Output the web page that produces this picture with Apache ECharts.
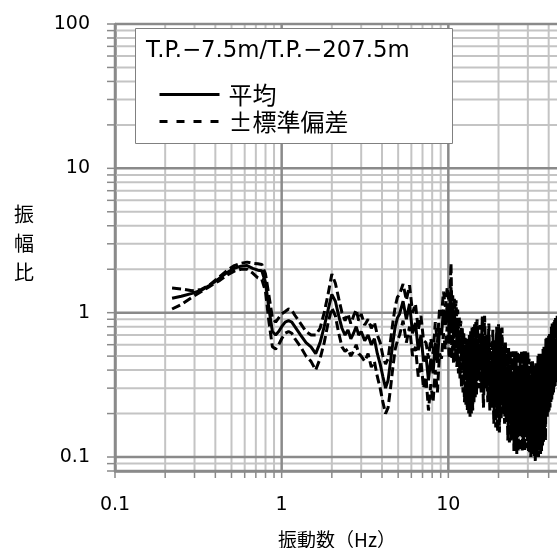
<!DOCTYPE html>
<html>
<head>
<meta charset="utf-8">
<script src="https://cdn.jsdelivr.net/npm/echarts@6/dist/echarts.min.js"></script>
<style>
  html, body { margin: 0; padding: 0; background: #fff; }
  #chart { width: 557px; height: 548px; }
</style>
</head>
<body>
<div id="chart"></div>
<script>
// Frequency (Hz) of each spectral point
const FREQ = [
  0.22, 0.25, 0.29, 0.33, 0.37, 0.42, 0.47, 0.52, 0.57, 0.62, 0.67, 0.72, 0.76, 0.80, 0.84, 0.88, 0.92, 0.96, 1.00,
  1.05, 1.10, 1.15, 1.20, 1.30, 1.40, 1.50, 1.60, 1.70, 1.80, 1.90, 2.00, 2.10, 2.20, 2.30, 2.40, 2.50, 2.60, 2.70, 2.80,
  2.90, 3.00, 3.15, 3.30, 3.45, 3.60, 3.75, 3.90, 4.05, 4.20, 4.35, 4.50, 4.65, 4.80, 4.95,
  5.10, 5.35, 5.60, 5.85, 6.10, 6.35, 6.60, 6.85, 7.10, 7.35, 7.60, 7.85, 8.10, 8.35, 8.60, 8.85, 9.10, 9.35, 9.60, 9.85,
  10, 10.125, 10.25, 10.375, 10.5, 10.625, 10.75, 10.875,
  11, 11.125, 11.25, 11.375, 11.5, 11.625, 11.75, 11.875,
  12, 12.125, 12.25, 12.375, 12.5, 12.625, 12.75, 12.875,
  13, 13.125, 13.25, 13.375, 13.5, 13.625, 13.75, 13.875,
  14, 14.125, 14.25, 14.375, 14.5, 14.625, 14.75, 14.875,
  15, 15.25, 15.5, 15.75, 16, 16.25, 16.5, 16.75, 17, 17.25, 17.5, 17.75, 18, 18.25, 18.5, 18.75, 19, 19.25, 19.5, 19.75,
  20, 20.25, 20.5, 20.75, 21, 21.25, 21.5, 21.75, 22, 22.25, 22.5, 22.75, 23, 23.25, 23.5, 23.75, 24, 24.25, 24.5, 24.75,
  25, 25.25, 25.5, 25.75, 26, 26.25, 26.5, 26.75, 27, 27.25, 27.5, 27.75, 28, 28.25, 28.5, 28.75, 29, 29.25, 29.5, 29.75,
  30, 30.25, 30.5, 30.75, 31, 31.25, 31.5, 31.75, 32, 32.25, 32.5, 32.75, 33, 33.25, 33.5, 33.75, 34, 34.25, 34.5, 34.75,
  35, 35.25, 35.5, 35.75, 36, 36.25, 36.5, 36.75, 37, 37.25, 37.5, 37.75, 38, 38.25, 38.5, 38.75, 39, 39.25, 39.5, 39.75,
  40, 40.25, 40.5, 40.75, 41, 41.25, 41.5, 41.75, 42, 42.25, 42.5, 42.75, 43, 43.25, 43.5, 43.75, 44, 44.25, 44.5, 44.75,
  45, 45.25, 45.5, 45.75
];

// Mean spectral ratio
const MEAN = [
  1.26, 1.30, 1.36, 1.43, 1.55, 1.72, 1.90, 2.03, 2.10, 2.12, 2.03, 1.97, 1.95, 1.62, 1.05, 0.74, 0.70, 0.74, 0.80,
  0.86, 0.88, 0.86, 0.80, 0.70, 0.62, 0.58, 0.52, 0.62, 0.80, 1.05, 1.34, 1.20, 0.95, 0.78, 0.70, 0.76, 0.66, 0.72, 0.80,
  0.70, 0.74, 0.64, 0.70, 0.60, 0.66, 0.52, 0.44, 0.36, 0.30, 0.34, 0.46, 0.62, 0.80, 0.92,
  0.98, 1.20, 0.90, 1.15, 0.72, 0.85, 0.55, 0.70, 0.46, 0.50, 0.34, 0.48, 0.38, 0.62, 0.45, 0.78, 0.70, 1.05, 0.82, 1.15,
  0.95, 0.70, 1.10, 1.50, 0.72, 1.00, 0.66, 0.98,
  0.70, 0.92, 0.62, 0.80, 0.56, 0.72, 0.52, 0.66,
  0.46, 0.60, 0.42, 0.56, 0.36, 0.50, 0.34, 0.46,
  0.32, 0.48, 0.30, 0.52, 0.28, 0.54, 0.30, 0.56,
  0.32, 0.58, 0.36, 0.60, 0.38, 0.62, 0.40, 0.64,
  0.62, 0.36, 0.58, 0.40, 0.66, 0.34, 0.68, 0.38, 0.52, 0.32, 0.58, 0.30, 0.46, 0.28, 0.54, 0.26, 0.46, 0.24, 0.56, 0.22,
  0.58, 0.20, 0.54, 0.26, 0.56, 0.28, 0.44, 0.24, 0.44, 0.22, 0.40, 0.19, 0.40, 0.17, 0.38, 0.19, 0.32, 0.18, 0.38, 0.16,
  0.36, 0.17, 0.38, 0.15, 0.38, 0.15, 0.30, 0.16, 0.36, 0.17, 0.38, 0.16, 0.32, 0.18, 0.38, 0.16, 0.38, 0.17, 0.36, 0.18,
  0.38, 0.16, 0.34, 0.15, 0.28, 0.14, 0.32, 0.15, 0.32, 0.13, 0.30, 0.14, 0.30, 0.13, 0.32, 0.14, 0.28, 0.15, 0.35, 0.14,
  0.36, 0.15, 0.34, 0.16, 0.38, 0.16, 0.30, 0.17, 0.40, 0.18, 0.42, 0.20, 0.38, 0.22, 0.47, 0.24, 0.48, 0.26, 0.46, 0.28,
  0.50, 0.30, 0.52, 0.32, 0.48, 0.34, 0.56, 0.36, 0.60, 0.38, 0.58, 0.40, 0.62, 0.42, 0.64, 0.44, 0.66, 0.46, 0.64, 0.48,
  0.68, 0.50, 0.66, 0.52
];

// Mean + one standard deviation
const UPPER = [
  1.48, 1.46, 1.42, 1.45, 1.56, 1.76, 1.96, 2.12, 2.20, 2.24, 2.20, 2.18, 2.16, 1.85, 1.30, 0.92, 0.86, 0.92, 0.98,
  1.02, 1.06, 1.04, 0.96, 0.84, 0.74, 0.70, 0.70, 0.78, 1.00, 1.35, 1.85, 1.60, 1.25, 1.00, 0.88, 0.98, 0.84, 0.95, 1.05,
  0.88, 0.98, 0.82, 0.90, 0.78, 0.86, 0.70, 0.62, 0.50, 0.44, 0.48, 0.64, 0.86, 1.10, 1.28,
  1.34, 1.58, 1.22, 1.55, 1.00, 1.15, 0.76, 0.95, 0.64, 0.62, 0.48, 0.66, 0.52, 0.86, 0.62, 1.05, 0.95, 1.40, 1.10, 1.50,
  1.30, 0.96, 1.48, 2.20, 0.98, 1.32, 0.90, 1.28,
  0.95, 1.22, 0.84, 1.05, 0.76, 0.94, 0.70, 0.88,
  0.62, 0.78, 0.56, 0.72, 0.50, 0.67, 0.46, 0.62,
  0.44, 0.66, 0.42, 0.72, 0.40, 0.76, 0.42, 0.79,
  0.46, 0.80, 0.50, 0.84, 0.54, 0.86, 0.56, 0.90,
  0.88, 0.52, 0.82, 0.56, 0.94, 0.48, 0.95, 0.54, 0.70, 0.46, 0.84, 0.42, 0.62, 0.40, 0.76, 0.37, 0.66, 0.34, 0.80, 0.32,
  0.83, 0.29, 0.78, 0.37, 0.79, 0.40, 0.60, 0.34, 0.62, 0.31, 0.57, 0.27, 0.57, 0.24, 0.54, 0.27, 0.44, 0.26, 0.54, 0.23,
  0.52, 0.24, 0.54, 0.22, 0.54, 0.22, 0.42, 0.23, 0.52, 0.24, 0.54, 0.23, 0.44, 0.26, 0.54, 0.23, 0.54, 0.24, 0.52, 0.26,
  0.54, 0.23, 0.48, 0.22, 0.38, 0.20, 0.46, 0.22, 0.46, 0.19, 0.43, 0.20, 0.43, 0.19, 0.46, 0.20, 0.40, 0.22, 0.50, 0.20,
  0.52, 0.22, 0.48, 0.23, 0.52, 0.23, 0.42, 0.24, 0.56, 0.26, 0.58, 0.28, 0.54, 0.31, 0.66, 0.34, 0.67, 0.37, 0.65, 0.40,
  0.70, 0.42, 0.73, 0.45, 0.66, 0.48, 0.80, 0.51, 0.84, 0.54, 0.82, 0.56, 0.86, 0.59, 0.89, 0.62, 0.92, 0.65, 0.90, 0.67,
  0.95, 0.70, 0.92, 0.73
];

// Mean - one standard deviation
const LOWER = [
  1.06, 1.14, 1.28, 1.40, 1.52, 1.66, 1.82, 1.94, 2.00, 2.00, 1.88, 1.74, 1.70, 1.40, 0.85, 0.58, 0.56, 0.60, 0.66,
  0.72, 0.74, 0.72, 0.66, 0.58, 0.50, 0.46, 0.40, 0.48, 0.62, 0.85, 1.08, 0.95, 0.72, 0.58, 0.54, 0.56, 0.50, 0.54, 0.60,
  0.52, 0.50, 0.46, 0.52, 0.42, 0.46, 0.36, 0.30, 0.24, 0.20, 0.22, 0.30, 0.42, 0.56, 0.64,
  0.70, 0.88, 0.62, 0.80, 0.50, 0.58, 0.36, 0.46, 0.30, 0.36, 0.21, 0.32, 0.24, 0.40, 0.28, 0.52, 0.48, 0.72, 0.56, 0.80,
  0.66, 0.48, 0.76, 0.98, 0.48, 0.70, 0.44, 0.66,
  0.46, 0.64, 0.42, 0.56, 0.38, 0.50, 0.35, 0.46,
  0.30, 0.42, 0.28, 0.38, 0.24, 0.34, 0.23, 0.31,
  0.21, 0.32, 0.20, 0.34, 0.19, 0.36, 0.20, 0.38,
  0.21, 0.40, 0.24, 0.42, 0.26, 0.44, 0.27, 0.45,
  0.42, 0.30, 0.40, 0.28, 0.44, 0.22, 0.46, 0.30, 0.40, 0.24, 0.38, 0.21, 0.36, 0.22, 0.34, 0.17, 0.35, 0.16, 0.38, 0.15,
  0.39, 0.148, 0.36, 0.18, 0.38, 0.20, 0.34, 0.17, 0.30, 0.18, 0.27, 0.13, 0.27, 0.126, 0.26, 0.13, 0.26, 0.15, 0.25, 0.11,
  0.25, 0.115, 0.26, 0.105, 0.25, 0.11, 0.23, 0.11, 0.25, 0.14, 0.26, 0.11, 0.25, 0.122, 0.23, 0.11, 0.26, 0.14, 0.25, 0.115,
  0.26, 0.11, 0.23, 0.105, 0.22, 0.10, 0.21, 0.105, 0.22, 0.12, 0.21, 0.10, 0.21, 0.094, 0.22, 0.10, 0.22, 0.105, 0.23, 0.10,
  0.24, 0.13, 0.23, 0.105, 0.26, 0.11, 0.25, 0.12, 0.27, 0.125, 0.28, 0.14, 0.30, 0.13, 0.31, 0.19, 0.32, 0.19, 0.31, 0.20,
  0.34, 0.21, 0.35, 0.22, 0.38, 0.24, 0.37, 0.25, 0.41, 0.27, 0.40, 0.28, 0.42, 0.30, 0.44, 0.31, 0.45, 0.33, 0.44, 0.35,
  0.47, 0.36, 0.46, 0.38
];

// Axis ranges, labelled ticks and log grid lines
const X_MIN = 0.1, X_MAX = 100;
const Y_MIN = 0.08, Y_MAX = 100;
const X_TICKS = [0.1, 1, 10, 100];
const X_TICK_LABELS = ['0.1', '1', '10', '100'];
const Y_TICKS = [0.1, 1, 10, 100];
const Y_TICK_LABELS = ['0.1', '1', '10', '100'];
const X_GRID = [
  0.1, 0.2, 0.3, 0.4, 0.5, 0.6, 0.7, 0.8, 0.9,
  1, 2, 3, 4, 5, 6, 7, 8, 9,
  10, 20, 30, 40, 50, 60, 70, 80, 90, 100
];
const Y_GRID = [
  0.08, 0.09,
  0.1, 0.2, 0.3, 0.4, 0.5, 0.6, 0.7, 0.8, 0.9,
  1, 2, 3, 4, 5, 6, 7, 8, 9,
  10, 20, 30, 40, 50, 60, 70, 80, 90, 100
];

const TITLE = 'T.P.−7.5m/T.P.−207.5m';
const NAME_MEAN = '平均';
const NAME_SD = '±標準偏差';
const X_NAME = '振動数（Hz）';
const Y_NAME = '振\n幅\n比';

const FONT = '"DejaVu Sans", "Noto Sans CJK JP", sans-serif';
const CJK_FONT = '"Noto Sans CJK JP", "DejaVu Sans", sans-serif';
const MAJOR_COLOR = '#8a8a8a';
const MINOR_COLOR = '#c4c4c4';

function isIn(v, list) {
  return list.some(t => Math.abs(t - v) / t < 1e-6);
}
function tickLabel(v, ticks, labels) {
  const i = ticks.findIndex(t => Math.abs(t - v) / t < 1e-6);
  return i >= 0 ? labels[i] : '';
}

// grid line items: [x, y, direction(0 = vertical, 1 = horizontal), major]
const gridItems = [];
const gridMajorItems = [];
X_GRID.forEach(v => {
  const major = isIn(v, X_TICKS) ? 1 : 0;
  (major ? gridMajorItems : gridItems).push([v, 1, 0, major]);
});
Y_GRID.forEach(v => {
  const major = (isIn(v, Y_TICKS) || v === Y_MIN) ? 1 : 0;
  (major ? gridMajorItems : gridItems).push([1, v, 1, major]);
});

function renderGrid(params, api) {
  const dir = api.value(2);
  const major = api.value(3) === 1;
  const stroke = major ? MAJOR_COLOR : MINOR_COLOR;
  const lw = major ? 2.5 : 2;
  if (dir === 0) {
    const v = api.value(0);
    const top = api.coord([v, Y_MAX]);
    const bot = api.coord([v, Y_MIN]);
    return {
      type: 'group',
      children: [
        { type: 'line', shape: { x1: top[0], y1: top[1], x2: bot[0], y2: bot[1] }, style: { stroke, lineWidth: lw } },
        { type: 'line', shape: { x1: bot[0], y1: bot[1], x2: bot[0], y2: bot[1] + 7 }, style: { stroke: MAJOR_COLOR, lineWidth: 1.5 } }
      ]
    };
  }
  const v = api.value(1);
  const left = api.coord([X_MIN, v]);
  const right = api.coord([X_MAX, v]);
  return {
    type: 'group',
    children: [
      { type: 'line', shape: { x1: left[0], y1: left[1], x2: right[0], y2: right[1] }, style: { stroke, lineWidth: lw } },
      { type: 'line', shape: { x1: left[0] - 8, y1: left[1], x2: left[0], y2: left[1] }, style: { stroke: MAJOR_COLOR, lineWidth: 1.5 } }
    ]
  };
}

const pair = arr => FREQ.map((f, i) => [f, arr[i]]);

const chart = echarts.init(document.getElementById('chart'), null, { renderer: 'canvas' });
chart.setOption({
  animation: false,
  backgroundColor: '#ffffff',
  grid: {
    left: 115, top: 24, width: 500, bottom: 77,
    containLabel: false, outerBoundsMode: 'none'
  },
  xAxis: {
    type: 'log', logBase: 10, min: X_MIN, max: X_MAX,
    axisLine: { show: true, lineStyle: { color: MAJOR_COLOR, width: 2.5 } },
    axisTick: { show: false },
    splitLine: { show: false },
    minorTick: { show: false },
    axisLabel: {
      color: '#000', fontFamily: FONT, fontSize: 19, margin: 25,
      formatter: v => tickLabel(v, X_TICKS, X_TICK_LABELS)
    }
  },
  yAxis: {
    type: 'log', logBase: 10, min: Y_MIN, max: Y_MAX,
    axisLine: { show: true, lineStyle: { color: MAJOR_COLOR, width: 2.5 } },
    axisTick: { show: false },
    splitLine: { show: false },
    axisLabel: {
      color: '#000', fontFamily: FONT, fontSize: 19, margin: 25,
      formatter: v => tickLabel(v, Y_TICKS, Y_TICK_LABELS)
    }
  },
  legend: {
    left: 158, top: 81, orient: 'vertical', padding: 0, itemGap: 0,
    itemWidth: 60, itemHeight: 14, selectedMode: false, z: 200,
    itemStyle: { opacity: 0 },
    textStyle: { fontFamily: CJK_FONT, fontSize: 24, color: '#000', lineHeight: 27, padding: [0, 0, 0, 4] },
    data: [
      { name: NAME_MEAN, lineStyle: { width: 3, type: 'solid', color: '#000' } },
      { name: NAME_SD, lineStyle: { width: 3, type: [8, 9], color: '#000' } }
    ]
  },
  graphic: [
    {
      type: 'rect', left: 135, top: 28, z: 150,
      shape: { width: 317, height: 115 },
      style: { fill: '#fff', stroke: '#808080', lineWidth: 1 }
    },
    {
      type: 'text', x: 146, y: 51, z: 160,
      style: { text: TITLE, fontFamily: FONT, fontSize: 22.8, fill: '#000', verticalAlign: 'middle' }
    },
    {
      type: 'text', x: 337, y: 540, z: 160,
      style: { text: X_NAME, fontFamily: CJK_FONT, fontSize: 19, fill: '#000', align: 'center', verticalAlign: 'middle' }
    },
    {
      type: 'text', x: 24, y: 243, z: 160,
      style: { text: Y_NAME, fontFamily: CJK_FONT, fontSize: 20, lineHeight: 29, fill: '#000', align: 'center', verticalAlign: 'middle' }
    }
  ],
  series: [
    {
      type: 'custom', coordinateSystem: 'cartesian2d', renderItem: renderGrid,
      data: gridItems, z: 1, silent: true, clip: false
    },
    {
      type: 'custom', coordinateSystem: 'cartesian2d', renderItem: renderGrid,
      data: gridMajorItems, z: 1, silent: true, clip: false
    },
    {
      name: NAME_SD, type: 'line', data: pair(UPPER), symbol: 'none', z: 3,
      lineStyle: { color: '#000', width: 3, type: [9, 4] }, itemStyle: { color: '#000' }
    },
    {
      name: NAME_SD, type: 'line', data: pair(LOWER), symbol: 'none', z: 3,
      lineStyle: { color: '#000', width: 3, type: [9, 4] }, itemStyle: { color: '#000' }
    },
    {
      name: NAME_MEAN, type: 'line', data: pair(MEAN), symbol: 'none', z: 4,
      lineStyle: { color: '#000', width: 3, type: 'solid' }, itemStyle: { color: '#000' }
    }
  ]
});
</script>
</body>
</html>
